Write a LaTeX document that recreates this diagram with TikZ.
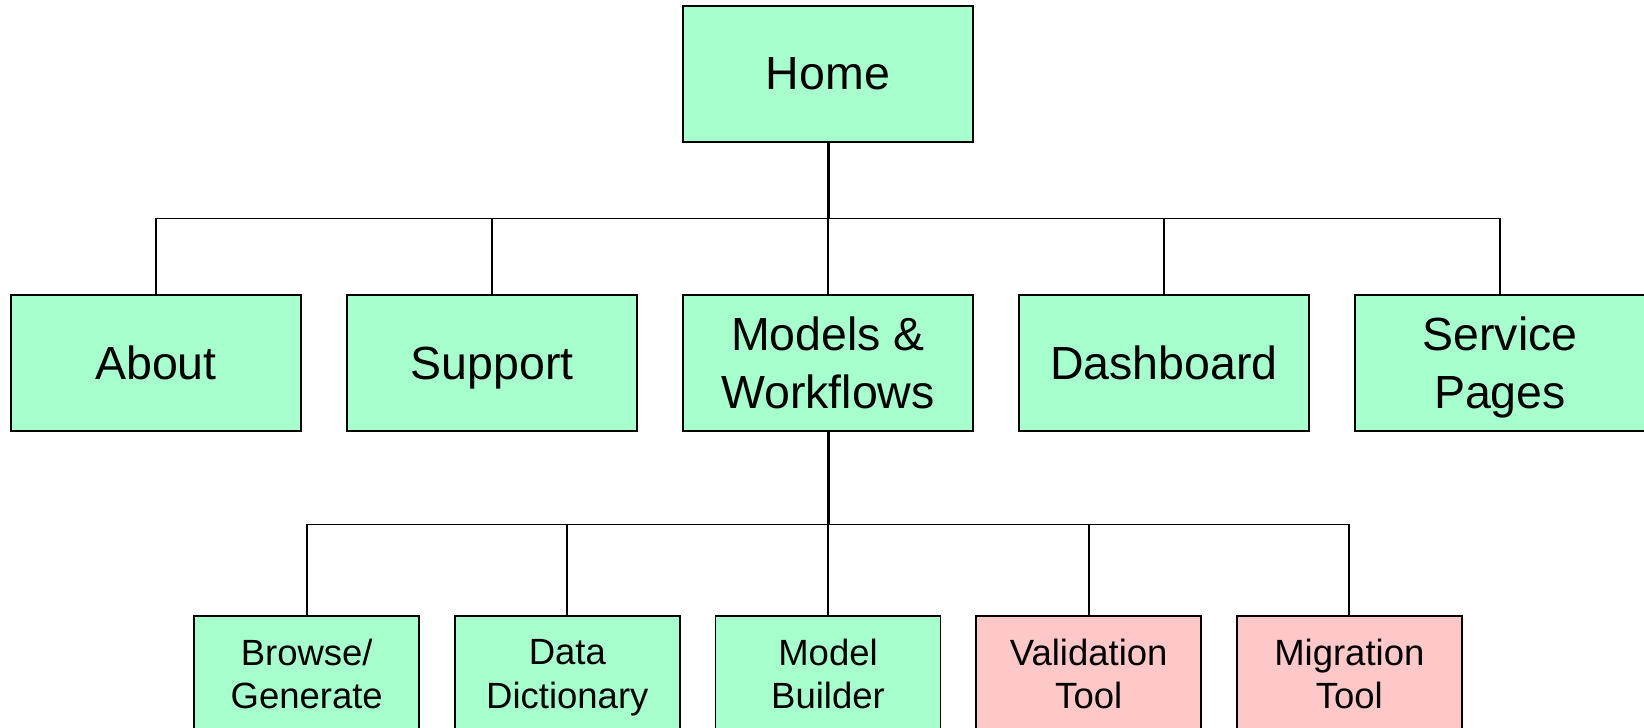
\documentclass[tikz,border=0pt]{standalone}
\usepackage{fontspec}
\setmainfont{Liberation Sans}
\definecolor{mint}{RGB}{168,255,206}
\definecolor{pinkbox}{RGB}{255,200,200}
\begin{document}
\begin{tikzpicture}[x=1pt,y=-1pt,
  box/.style={draw=black,line width=1.6pt,fill=mint,rectangle,inner sep=0pt,align=center,text depth=0pt},
  bigbox/.style={box,minimum width=290pt,minimum height=136pt,font=\fontsize{46.5}{58}\selectfont},
  smallbox/.style={box,minimum width=225pt,minimum height=116pt,font=\fontsize{36.5}{43.3}\selectfont},
  newbox/.style={fill=pinkbox},
  link/.style={line width=1.8pt},
  stem/.style={line width=3pt}]
\useasboundingbox (0,0) rectangle (1644,728);
\clip (0,0) rectangle (1644,728);
\node[bigbox] (home) at (828,74) {Home};
\node[bigbox] (about) at (156,363) {About};
\node[bigbox] (support) at (492,363) {Support};
\node[bigbox] (models) at (828,363) {Models \&\\Workflows};
\node[bigbox] (dash) at (1164,363) {Dashboard};
\node[bigbox] (service) at (1500,363) {Service\\Pages};
\node[smallbox] (browse) at (306.7,674) {Browse/\\Generate};
\node[smallbox] (dict) at (567.3,674) {Data\\Dictionary};
\node[smallbox] (builder) at (828,674) {Model\\Builder};
\node[smallbox,newbox] (valid) at (1088.7,674) {Validation\\Tool};
\node[smallbox,newbox] (migr) at (1349.3,674) {Migration\\Tool};
\coordinate (bus1) at (828,218.5);
\coordinate (bus2) at (828,524.5);
\draw[stem] (home.south) -- (bus1);
\foreach \n in {about,support,models,dash,service}
  \draw[link] (\n.north) |- (bus1);
\draw[stem] (models.south) -- (bus2);
\foreach \n in {browse,dict,builder,valid,migr}
  \draw[link] (\n.north) |- (bus2);
\end{tikzpicture}
\end{document}
